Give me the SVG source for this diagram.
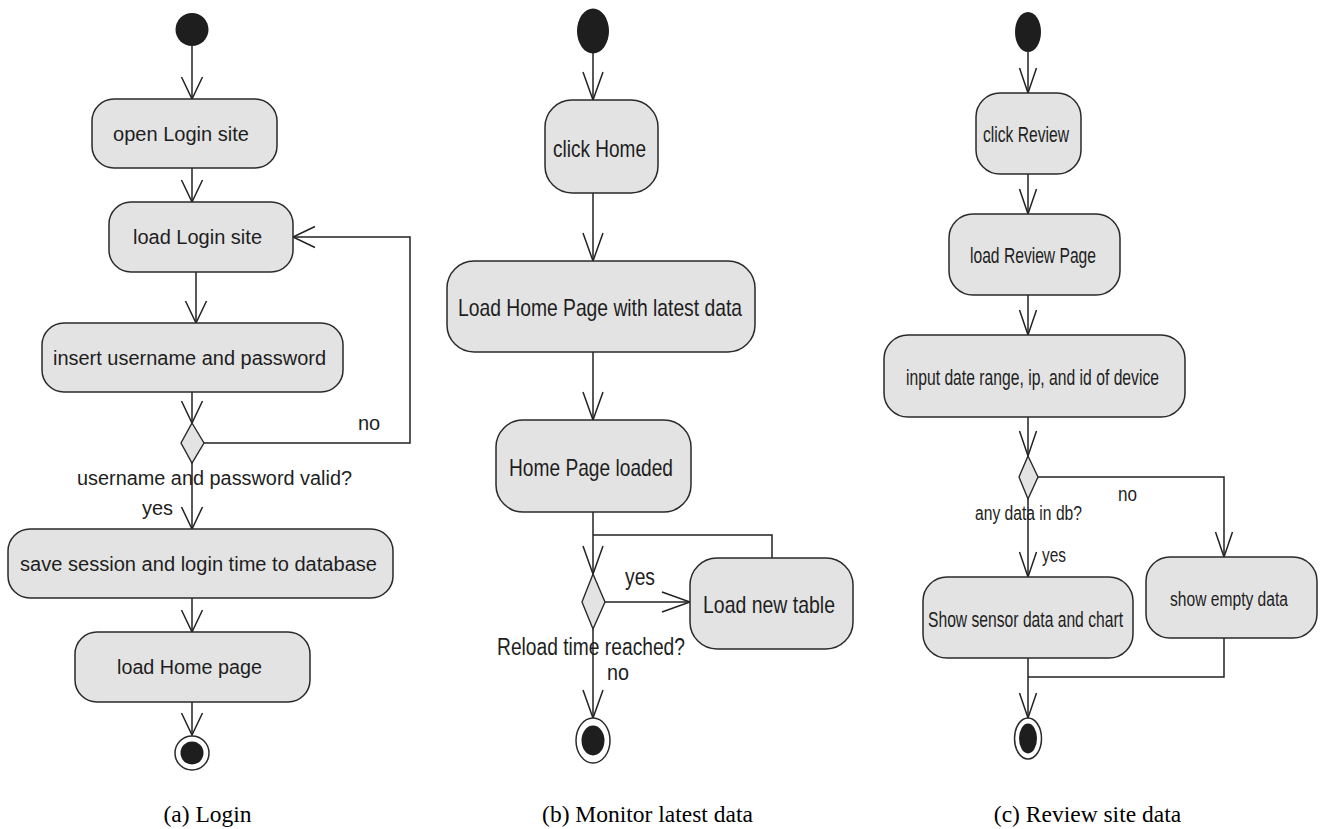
<svg xmlns="http://www.w3.org/2000/svg" width="1322" height="829" viewBox="0 0 1322 829">
<style>
.bg{fill:#ffffff}
.act{fill:#e3e3e3;stroke:#2a2a2a;stroke-width:1.5}
.dec{fill:#e3e3e3;stroke:#2a2a2a;stroke-width:1.4}
.start{fill:#1e1e1e}
.endo{fill:#ffffff;stroke:#2a2a2a;stroke-width:1.5}
.endi{fill:#1e1e1e}
.ln{fill:none;stroke:#222222;stroke-width:1.5}
.t{font-family:"Liberation Sans",Arial,sans-serif;fill:#1e1e1e}
.m{text-anchor:middle}
.ta{font-size:20px}
.tb{font-size:24px}
.tc{font-size:22px}
.lb{font-size:23px}
.lc{font-size:20px}
.cap{font-family:"Liberation Serif","Times New Roman",serif;font-size:23.5px;fill:#000000;text-anchor:middle}
</style>
<defs>
<marker id="arA" markerUnits="userSpaceOnUse" markerWidth="30" markerHeight="26" refX="24" refY="12" orient="auto" overflow="visible">
<path d="M2,1.5 L24,12 L2,22.5" fill="none" stroke="#222222" stroke-width="1.5"/>
</marker>
<marker id="arB" markerUnits="userSpaceOnUse" markerWidth="32" markerHeight="26" refX="28" refY="12" orient="auto" overflow="visible">
<path d="M0,2 L28,12 L0,22" fill="none" stroke="#222222" stroke-width="1.5"/>
</marker>
<marker id="arC" markerUnits="userSpaceOnUse" markerWidth="30" markerHeight="26" refX="25" refY="12" orient="auto" overflow="visible">
<path d="M0,3.5 L25,12 L0,20.5" fill="none" stroke="#222222" stroke-width="1.5"/>
</marker>
</defs>
<rect class="bg" x="0" y="0" width="1322" height="829"/>

<!-- Connectors -->
<g id="connectors">
<!-- (a) -->
<line class="ln" x1="192" y1="46" x2="192" y2="99" marker-end="url(#arA)"/>
<line class="ln" x1="192" y1="168" x2="192" y2="202" marker-end="url(#arA)"/>
<line class="ln" x1="196" y1="272" x2="196" y2="323" marker-end="url(#arA)"/>
<line class="ln" x1="192" y1="392" x2="192" y2="423" marker-end="url(#arA)"/>
<polyline class="ln" points="204,443 410,443 410,237 293,237" marker-end="url(#arA)"/>
<line class="ln" x1="192" y1="463" x2="192" y2="529" marker-end="url(#arA)"/>
<line class="ln" x1="192" y1="598" x2="192" y2="632" marker-end="url(#arA)"/>
<line class="ln" x1="192" y1="702" x2="192" y2="735" marker-end="url(#arA)"/>
<!-- (b) -->
<line class="ln" x1="593" y1="53" x2="593" y2="100" marker-end="url(#arB)"/>
<line class="ln" x1="593" y1="193" x2="593" y2="261" marker-end="url(#arB)"/>
<line class="ln" x1="593" y1="352" x2="593" y2="420" marker-end="url(#arB)"/>
<line class="ln" x1="593" y1="512" x2="593" y2="574" marker-end="url(#arB)"/>
<polyline class="ln" points="772,558 772,535 593,535"/>
<line class="ln" x1="605" y1="602" x2="690" y2="602" marker-end="url(#arB)"/>
<line class="ln" x1="593" y1="629" x2="593" y2="718" marker-end="url(#arB)"/>
<!-- (c) -->
<line class="ln" x1="1028" y1="52" x2="1028" y2="93" marker-end="url(#arC)"/>
<line class="ln" x1="1028" y1="174" x2="1028" y2="214" marker-end="url(#arC)"/>
<line class="ln" x1="1028" y1="295" x2="1028" y2="335" marker-end="url(#arC)"/>
<line class="ln" x1="1028" y1="417" x2="1028" y2="456" marker-end="url(#arC)"/>
<polyline class="ln" points="1038,477 1224,477 1224,557" marker-end="url(#arC)"/>
<line class="ln" x1="1028" y1="499" x2="1028" y2="577" marker-end="url(#arC)"/>
<polyline class="ln" points="1224,638 1224,677 1028,677"/>
<line class="ln" x1="1028" y1="658" x2="1028" y2="718" marker-end="url(#arC)"/>
</g>

<!-- Panel (a) -->
<g id="a-start"><circle class="start" cx="192" cy="29.5" r="16.5"/></g>
<g id="a-open"><rect class="act" x="92" y="99" width="185" height="69" rx="22"/><text class="t ta" x="113" y="141" textLength="136" lengthAdjust="spacingAndGlyphs">open Login site</text></g>
<g id="a-load"><rect class="act" x="109" y="202" width="184" height="70" rx="22"/><text class="t ta" x="133" y="244" textLength="129" lengthAdjust="spacingAndGlyphs">load Login site</text></g>
<g id="a-insert"><rect class="act" x="42" y="323" width="301" height="69" rx="22"/><text class="t ta" x="53" y="365" textLength="273" lengthAdjust="spacingAndGlyphs">insert username and password</text></g>
<g id="a-decision"><polygon class="dec" points="192,423 204,443 192,463 181,443"/></g>
<g id="a-labels">
<text class="t ta" x="358" y="430">no</text>
<text class="t ta" x="77" y="485" textLength="275" lengthAdjust="spacingAndGlyphs">username and password valid?</text>
<text class="t ta" x="142" y="515">yes</text>
</g>
<g id="a-save"><rect class="act" x="8" y="529" width="385" height="69" rx="22"/><text class="t ta" x="20" y="571" textLength="357" lengthAdjust="spacingAndGlyphs">save session and login time to database</text></g>
<g id="a-home"><rect class="act" x="75" y="632" width="235" height="70" rx="22"/><text class="t ta" x="117" y="674" textLength="145" lengthAdjust="spacingAndGlyphs">load Home page</text></g>
<g id="a-end"><circle class="endo" cx="192" cy="753" r="17"/><circle class="endi" cx="192" cy="753" r="11.5"/></g>
<g id="a-caption"><text class="cap" x="207.5" y="822">(a) Login</text></g>

<!-- Panel (b) -->
<g id="b-start"><ellipse class="start" cx="593" cy="31" rx="16" ry="22.5"/></g>
<g id="b-click"><rect class="act" x="545" y="100" width="113" height="93" rx="27"/><text class="t tb m" x="599.5" y="157" textLength="93" lengthAdjust="spacingAndGlyphs">click Home</text></g>
<g id="b-loadhome"><rect class="act" x="447" y="261" width="308" height="91" rx="27"/><text class="t tb m" x="600" y="316" font-size="25" textLength="284" lengthAdjust="spacingAndGlyphs">Load Home Page with latest data</text></g>
<g id="b-loaded"><rect class="act" x="496" y="420" width="195" height="92" rx="27"/><text class="t tb m" x="591" y="476" textLength="164" lengthAdjust="spacingAndGlyphs">Home Page loaded</text></g>
<g id="b-decision"><polygon class="dec" points="593,574 605,602 593,629 582,602"/></g>
<g id="b-newtable"><rect class="act" x="690" y="558" width="163" height="91" rx="27"/><text class="t tb m" x="769" y="613" font-size="25" textLength="132" lengthAdjust="spacingAndGlyphs">Load new table</text></g>
<g id="b-labels">
<text class="t lb" x="625" y="585" textLength="30" lengthAdjust="spacingAndGlyphs">yes</text>
<text class="t lb m" x="591" y="655" textLength="188" lengthAdjust="spacingAndGlyphs">Reload time reached?</text>
<text class="t" x="607" y="680" font-size="22" textLength="22" lengthAdjust="spacingAndGlyphs">no</text>
</g>
<g id="b-end"><ellipse class="endo" cx="593" cy="740.5" rx="17" ry="22.5"/><ellipse class="endi" cx="593" cy="740.5" rx="11.5" ry="15"/></g>
<g id="b-caption"><text class="cap" x="647.5" y="822">(b) Monitor latest data</text></g>

<!-- Panel (c) -->
<g id="c-start"><ellipse class="start" cx="1028" cy="32" rx="13" ry="20"/></g>
<g id="c-click"><rect class="act" x="976" y="93" width="105" height="81" rx="24"/><text class="t tc m" x="1026" y="142" textLength="86" lengthAdjust="spacingAndGlyphs">click Review</text></g>
<g id="c-loadreview"><rect class="act" x="949" y="214" width="171" height="81" rx="24"/><text class="t tc m" x="1033" y="263" textLength="126" lengthAdjust="spacingAndGlyphs">load Review Page</text></g>
<g id="c-input"><rect class="act" x="884" y="335" width="301" height="82" rx="24"/><text class="t tc m" x="1032.5" y="385" textLength="253" lengthAdjust="spacingAndGlyphs">input date range, ip, and id of device</text></g>
<g id="c-decision"><polygon class="dec" points="1028,456 1038,477 1028,499 1019,477"/></g>
<g id="c-labels">
<text class="t lc" x="1118" y="501" textLength="19" lengthAdjust="spacingAndGlyphs">no</text>
<text class="t lc m" x="1028.5" y="520" textLength="107" lengthAdjust="spacingAndGlyphs">any data in db?</text>
<text class="t lc" x="1042" y="562" textLength="24" lengthAdjust="spacingAndGlyphs">yes</text>
</g>
<g id="c-sensor"><rect class="act" x="923" y="577" width="210" height="81" rx="24"/><text class="t tc m" x="1025.5" y="627" textLength="195" lengthAdjust="spacingAndGlyphs">Show sensor data and chart</text></g>
<g id="c-empty"><rect class="act" x="1146" y="557" width="171" height="81" rx="24"/><text class="t m" x="1229" y="606" font-size="20" textLength="118" lengthAdjust="spacingAndGlyphs">show empty data</text></g>
<g id="c-end"><ellipse class="endo" cx="1028" cy="738.5" rx="13.5" ry="20.5"/><ellipse class="endi" cx="1028" cy="738.5" rx="9" ry="15"/></g>
<g id="c-caption"><text class="cap" x="1087.5" y="822">(c) Review site data</text></g>
</svg>
